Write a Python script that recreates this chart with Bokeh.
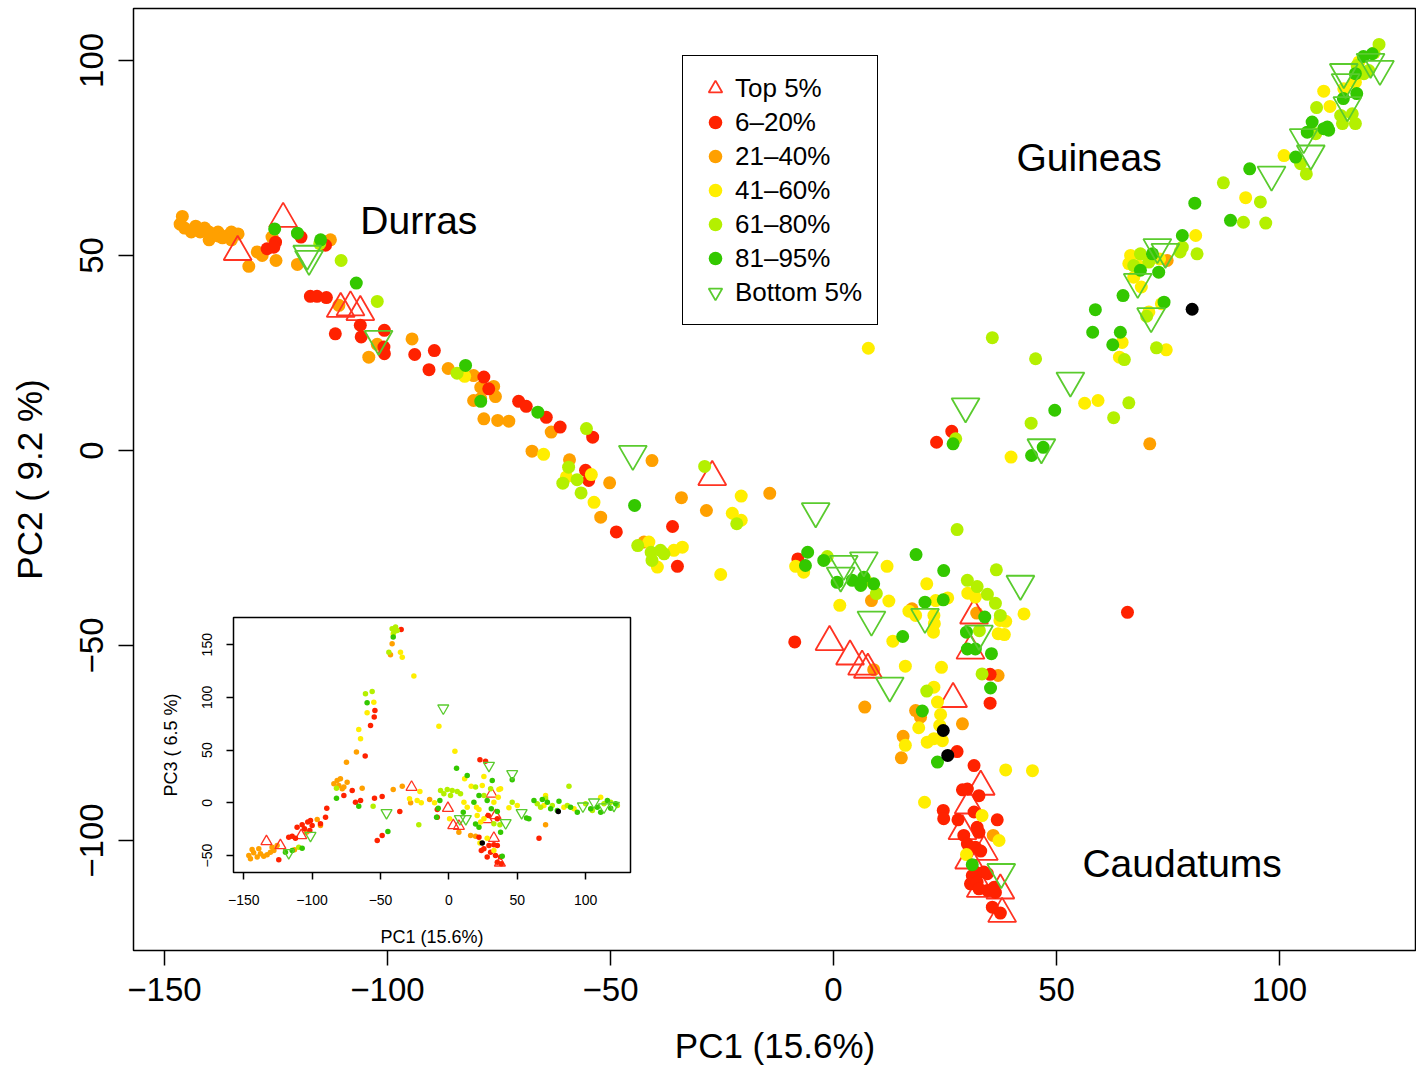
from bokeh.plotting import figure
from bokeh.models import Legend, LegendItem, Label, FixedTicker
from bokeh.embed import file_html
from bokeh.resources import INLINE

FONT = "Liberation Sans"

categories = ["Top 5%", "6–20%", "21–40%", "41–60%", "61–80%", "81–95%", "Bottom 5%"]
colors = {"top5": "#FF3322", "r": "#FF2200", "o": "#FFA000", "y": "#FFEE00",
          "l": "#B4F000", "g": "#33C800", "b": "#5ACB2E", "k": "#000000"}

x_ticks = [-150, -100, -50, 0, 50, 100]
y_ticks = [-100, -50, 0, 50, 100]
inset_x_ticks = [-150, -100, -50, 0, 50, 100]
inset_y_ticks = [-50, 0, 50, 100, 150]

# ---------------- main plot: (PC1, PC2) ----------------
main_top5 = [(-123.4, 59.4), (-133.6, 50.9), (-110.5, 36.3), (-108.3, 36.7), (-106.1, 35.5),
             (-27.2, -6.8), (-0.9, -49.1), (3.7, -52.8), (6.4, -55.4), (7.7, -56.2),
             (31.5, -42.3), (30.7, -51.3), (26.8, -63.7), (33.0, -86.2), (30.3, -91.0),
             (28.9, -97.6), (33.7, -102.9), (30.4, -105.1), (33.0, -112.4), (37.4, -112.8),
             (37.8, -118.8)]
main_r = [(-127, 51.7), (-125.1, 53.4), (-125.5, 52.1), (-119.4, 54.7), (-113.9, 52.6),
          (-117.3, 39.5), (-115.8, 39.5), (-113.7, 39.2), (-106.1, 32.1), (-111.7, 29.9),
          (-105.9, 29.1), (-100.7, 30.8), (-100.8, 26.5), (-100.7, 24.8), (-89.5, 25.6),
          (-93.9, 24.6), (-90.7, 20.7), (-78.4, 18.8), (-77.3, 15.8), (-70.6, 12.6),
          (-68.9, 11.3), (-64.4, 8.5), (-61.3, 6.0), (-54.0, 3.4), (-55.6, -5.1),
          (-54.9, -7.7), (-48.7, -20.9), (-36.1, -19.5), (-35.0, -29.7),
          (-8.0, -27.8), (-8.7, -49.1), (27.7, -77.2), (31.5, -80.8), (35.1, -57.4),
          (35.1, -64.8), (26.5, 4.9), (23.1, 2.1), (65.9, -41.5),
          (28.9, -87.0), (30.0, -86.8), (32.6, -88.5), (24.6, -92.3), (24.7, -94.4),
          (31.5, -92.7), (36.7, -94.7), (27.9, -94.7), (32.2, -96.6), (32.6, -97.9),
          (29.2, -98.7), (30.0, -100.9), (31.8, -101.7), (33.0, -102.7), (31.1, -109.0),
          (31.8, -108.1), (33.7, -108.1), (34.5, -108.5), (30.7, -111.1), (32.2, -110.7),
          (32.6, -112.4), (34.5, -112.8), (36.0, -112.0), (36.3, -113.3), (35.6, -117.1),
          (37.4, -118.6)]
main_o = [(-146, 60), (-146.5, 58), (-145.5, 57), (-143, 57.5), (-142, 56), (-140, 56),
          (-140, 54), (-138, 56), (-138, 55), (-136, 55), (-135, 54), (-135, 56), (-144, 56),
          (-141, 57), (-137, 54.5), (-133.5, 55.5), (-131.1, 47.2), (-129.2, 50.9),
          (-128.1, 50.0), (-125.9, 54.7), (-125.0, 48.7), (-120.2, 47.7), (-112.8, 54.0),
          (-110.9, 37.2), (-102.3, 27.2), (-104.2, 23.9), (-94.5, 28.6), (-86.4, 21.0),
          (-80.7, 19.2), (-79.1, 16.2), (-76.2, 16.4), (-75.8, 13.8), (-80.7, 12.8),
          (-79.1, 13.3), (-78.4, 8.1), (-75.3, 7.7), (-72.8, 7.5), (-63.3, 4.7),
          (-67.6, -0.2), (-59.2, -2.4), (-50.2, -8.3), (-52.2, -17.1), (-40.7, -2.6),
          (-34.1, -12.1), (-28.5, -15.4), (-42.5, -23.5), (-14.3, -11.0),
          (8.5, -38.5), (17.6, -40.6), (32.1, -41.7), (36.9, -57.7), (9.0, -56.2),
          (7.0, -65.8), (18.4, -66.7), (19.5, -68.4), (28.9, -70.1), (15.6, -73.3),
          (15.2, -78.8), (35.8, -98.7), (70.9, 1.7), (74.8, 48.7)]
main_y = [(-82.7, 19.0), (-65.0, -1.0), (-59.9, -6.8), (-54.3, -6.2), (-53.7, -13.3),
          (-20.7, -11.7), (-22.7, -16.1), (-20.7, -17.9), (-41.4, -23.5), (-39.5, -29.9),
          (-35.8, -25.6), (-33.9, -24.8), (-25.3, -31.8),
          (-8.5, -29.7), (-6.7, -31.2), (7.2, -33.3), (12.4, -38.6), (12.0, -29.7),
          (1.4, -39.7), (20.9, -34.2), (22.9, -38.5), (25.6, -37.8), (16.9, -41.2),
          (18.4, -42.3), (22.5, -42.3), (22.6, -44.4), (22.4, -46.6), (13.3, -48.9),
          (30.1, -36.6), (31.8, -37.6), (37.3, -43.6), (38.6, -43.8), (42.7, -41.9),
          (36.9, -47.0), (38.3, -47.2), (16.1, -55.3), (24.2, -55.6), (22.5, -60.7),
          (23.3, -64.5), (19.1, -71.1), (24.0, -67.7), (23.8, -70.5), (16.1, -75.6),
          (21.0, -74.8), (22.5, -73.9), (24.4, -74.4), (38.6, -81.9), (44.6, -82.1),
          (20.4, -90.2), (33.3, -93.6), (37.1, -100.0), (29.8, -103.6),
          (7.8, 26.2), (56.3, 12.1), (59.3, 12.8), (39.8, -1.7), (64.7, 27.7),
          (64.1, 23.9), (74.6, 25.8), (70.7, 35.5), (73.5, 37.6), (69.0, 41.9),
          (66.6, 50.0), (66.2, 47.9), (68.3, 47.4), (73.1, 49.1), (67.3, 44.4),
          (81.2, 55.1), (92.4, 64.8), (101.0, 75.6), (109.9, 92.1), (111.3, 88.2),
          (114.4, 92.7), (117.0, 94.4), (117.8, 99.6), (116.7, 94.4)]
main_l = [(-115.2, 53.0), (-110.4, 48.7), (-102.3, 38.2), (-84.4, 19.8), (-55.4, 5.6),
          (-59.4, -4.3), (-60.7, -8.4), (-57.5, -7.5), (-56.6, -10.9), (-28.9, -4.1),
          (-21.7, -18.8), (-43.9, -24.4), (-40.9, -26.1), (-38.8, -25.6), (-38.0, -26.5),
          (-40.7, -28.2),
          (27.7, -20.3), (-1.4, -27.2), (9.6, -36.7), (30.0, -33.3), (32.2, -34.9),
          (34.5, -36.9), (36.3, -39.2), (36.5, -30.6), (37.4, -42.3), (32.7, -46.2),
          (33.3, -57.3), (20.9, -61.7),
          (35.6, 28.9), (45.3, 23.5), (66.2, 12.2), (62.8, 8.4), (44.3, 7.0), (27.4, 3.0),
          (65.2, 23.3), (72.4, 26.3), (70.2, 34.4), (78.2, 52.1), (77.7, 50.9),
          (81.5, 50.4), (68.8, 50.4), (67.3, 47.4), (70.7, 48.3), (87.4, 68.6),
          (95.7, 63.7), (91.9, 58.5), (96.9, 58.3), (104.7, 73.5), (106.0, 70.9),
          (108.1, 81.2), (114.1, 83.8), (117.0, 83.8), (108.3, 87.9), (113.7, 85.9),
          (116.3, 86.3), (117.4, 98.7), (118.9, 96.6), (122.3, 104.1), (121.2, 101.9),
          (120.0, 97.4)]
main_g = [(-125.3, 56.8), (-120.2, 55.7), (-115.0, 54.0), (-107.0, 42.9), (-82.5, 21.8),
          (-79.1, 12.6), (-66.3, 9.8), (-44.6, -14.1),
          (-5.8, -26.1), (-6.3, -29.5), (-2.2, -28.2), (0.8, -33.8), (4.2, -33.3),
          (6.1, -34.6), (6.8, -32.5), (9.0, -34.2), (18.5, -26.7), (24.7, -30.8),
          (20.5, -38.9), (24.6, -38.3), (15.5, -47.7), (33.9, -42.7), (29.8, -46.6),
          (30.0, -50.9), (31.8, -50.9), (35.4, -52.1), (35.2, -60.9), (19.9, -66.8),
          (23.3, -79.9), (31.1, -106.2),
          (49.6, 10.3), (26.8, 1.7), (44.4, -1.3), (47.0, 0.8), (64.9, 39.7),
          (58.7, 36.1), (58.1, 30.3), (64.3, 30.3), (62.6, 27.1), (74.1, 38.0),
          (78.2, 55.1), (71.5, 50.4), (72.9, 45.7), (68.8, 46.2), (81.0, 63.4),
          (89.0, 59.0), (93.3, 72.2), (103.6, 75.2), (106.2, 81.6), (107.3, 84.2),
          (110.7, 82.9), (111.0, 82.1), (109.9, 82.5), (114.3, 90.2), (117.3, 91.5),
          (117.0, 96.6), (118.8, 101.0), (120.8, 101.7)]
main_bottom5 = [(-118.0, 50.4), (-117.6, 49.1), (-102.0, 28.6), (-45.0, -0.9), (-4.0, -15.6),
                (2.3, -29.1), (6.8, -28.2), (1.6, -32.1), (8.5, -43.4), (20.5, -42.7),
                (41.9, -34.2), (32.6, -47.0), (12.6, -60.3), (37.6, -108.1), (29.6, 11.3),
                (53.1, 17.9), (46.6, 0.8), (71.2, 34.4), (68.2, 43.2), (72.6, 52.1),
                (74.4, 50.9), (98.2, 70.7), (107.0, 76.1), (105.4, 80.3), (114.4, 97.0),
                (114.8, 94.4), (115.2, 88.5), (122.5, 97.8), (120.4, 99.6)]
main_k = [(80.4, 36.2), (24.6, -71.8), (25.6, -78.2)]

# ---------------- inset: (PC1, PC3) ----------------
inset_top5 = [(-133.4, -36.7), (-123.2, -40.5), (-108.0, -31.0), (-27.3, 14.9), (-0.7, -5.1),
              (3.2, -21.5), (7.3, -22.1), (31.2, 8.5), (28.0, -15.8), (34.1, -12.0),
              (32.9, -33.5), (37.3, -56.9)]
inset_r = [(-34.9, 164.5), (-54.1, 87.6), (-54.6, 81.3), (-57.3, 73.4), (-61.2, 44.3),
           (22.7, 40.8), (26.8, 39.5), (-76.8, 7.0), (-70.7, 11.7), (-68.3, 0.6),
           (-64.6, 2.2), (-54.4, 4.4), (-48.8, 6.0), (-35.9, -8.2), (-48.8, -31.0),
           (-52.4, -35.7), (-89.3, -5.1), (-90.2, -13.6), (-93.9, -19.9), (-8.5, -6.3),
           (-8.5, -13.6), (28.8, -12.0), (35.4, -15.2), (65.9, -33.5), (25.6, -43.6),
           (29.3, -40.5), (32.9, -39.8), (35.4, -40.5), (30.5, -46.8), (34.1, -50.0),
           (37.8, -51.5), (35.4, -56.3), (38.3, -57.9), (22.0, -32.6), (23.7, -45.2),
           (28.0, -51.5), (-124.4, -54.1), (-117.1, -32.6), (-114.6, -31.6), (-112.2, -33.5),
           (-111.0, -23.1), (-107.3, -20.9), (-103.2, -18.3), (-101.2, -16.8), (-100.0, -21.5),
           (-105.6, -24.7), (-101.7, -26.2)]
inset_o = [(-41.5, 150.9), (-42.7, 140.4), (-67.6, 48.1), (-74.9, 38.6), (-81.7, 21.2),
           (-79.3, 22.8), (-84.1, 18.0), (-80.5, 16.4), (-76.8, 14.9), (-74.4, 19.6),
           (-78.0, 13.3), (-63.4, 13.9), (-40.7, 12.7), (-34.1, 15.8), (-28.0, 0.0),
           (-14.1, 3.2), (7.3, -27.8), (15.9, -31.0), (19.5, -31.6), (70.7, -20.9),
           (-146.3, -50.0), (-145.1, -53.1), (-142.7, -47.4), (-140.2, -51.5), (-137.8, -48.4),
           (-135.4, -50.6), (-132.9, -49.3), (-130.5, -46.8), (-143.9, -44.3), (-139.0, -43.6),
           (-128.0, -45.2), (-125.6, -40.5), (-129.3, -42.1), (-112.9, -44.6), (-93.9, -21.5),
           (-96.3, -15.8), (-104.1, -27.8)]
inset_y = [(-39.0, 164.5), (-40.7, 160.3), (-35.4, 142.9), (-34.1, 138.2), (-25.6, 120.2),
           (-54.9, 95.5), (-59.8, 85.4), (-65.9, 69.6), (-64.6, 60.7), (-7.3, 72.7),
           (4.4, 49.0), (25.6, 25.0), (11.5, 22.8), (37.8, 13.3), (24.4, 16.4), (16.3, 15.8),
           (-21.2, 10.8), (-28.8, 3.8), (-23.2, 2.2), (-20.2, 0.0), (-10.5, 0.0),
           (0.5, -15.2), (11.0, 0.6), (13.4, -4.1), (20.7, -12.0), (20.2, -4.1), (22.0, -6.3),
           (25.6, -15.2), (23.2, -18.3), (36.6, 12.7), (36.1, 5.4), (32.9, 0.6), (43.9, -4.7),
           (50.0, -2.5), (28.0, -33.5), (32.9, -45.2), (22.7, -38.0), (70.7, 7.0),
           (69.5, -2.5), (84.1, -4.1), (111.0, 5.4), (91.5, -5.7)]
inset_l = [(-41.5, 165.1), (-39.0, 166.7), (-40.2, 161.9), (-37.8, 163.5), (-43.9, 142.9),
           (-61.0, 103.4), (-56.1, 105.6), (87.8, 15.8), (-82.2, 13.9), (-55.4, -3.2),
           (-22.0, -20.9), (-6.1, 11.7), (-1.2, 12.7), (2.4, 11.7), (6.1, 10.8), (-3.7, 8.5),
           (1.2, 7.0), (8.5, 8.5), (19.5, 14.9), (25.6, 7.0), (30.5, 13.3), (32.9, -19.9),
           (37.3, -20.9), (46.3, 0.6), (64.6, -0.9), (67.1, -4.1), (70.7, 4.4), (75.6, -2.5),
           (86.6, -2.5), (100.0, -0.9), (104.9, -7.3), (113.4, -0.9), (123.2, -2.5),
           (118.3, 0.6), (-109.8, -42.1)]
inset_g = [(-40.7, 157.2), (-59.8, 94.9), (5.6, 32.9), (46.3, 21.8), (31.7, 21.2),
           (-82.2, 4.4), (-65.9, -3.2), (-44.6, -27.2), (-6.6, 2.2), (-7.8, -5.1),
           (-9.0, -13.6), (10.5, -8.9), (19.5, -20.2), (22.0, -23.1), (35.4, -8.2),
           (28.0, 2.2), (31.0, -5.7), (37.8, -27.8), (58.5, -15.2), (13.4, 25.9),
           (18.3, 0.6), (22.0, 7.0), (39.0, -50.6), (62.2, 2.2), (68.3, 3.2), (72.0, 0.6),
           (80.5, 1.6), (74.4, -5.7), (79.3, -7.3), (89.0, -4.1), (93.9, -8.9),
           (103.7, -5.7), (108.5, -4.1), (115.9, 2.2), (122.0, -0.9), (118.3, -5.1),
           (111.0, -8.9), (56.8, -14.5), (-119.5, -46.8), (-114.6, -45.2), (-107.3, -43.0)]
inset_bottom5 = [(-4.1, 89.8), (29.3, 35.4), (46.3, 27.5), (-45.6, -9.5), (8.0, -15.2),
                 (12.4, -15.2), (41.5, -19.0), (53.2, -9.5), (98.0, -3.2), (106.1, 0.6),
                 (113.4, -4.1), (120.7, -2.5), (-117.1, -47.4), (-101.2, -31.0)]
inset_k = [(24.4, -38.0), (80.0, -8.2)]

group_labels = [("Durras", -106.1, 59.0), ("Guineas", 41.0, 75.1), ("Caudatums", 55.8, -105.9)]


def xs(pts):
    return [a for a, _ in pts]


def ys(pts):
    return [b for _, b in pts]


def minus(t):
    return str(t).replace("-", "\u2212")


def style_axes(fig, xt, yt, tick_out, tick_size, label_size, x_std, x_ax_std, y_std, y_ax_std):
    fig.grid.visible = False
    fig.outline_line_color = "black"
    fig.outline_line_width = 1.5
    fig.outline_line_alpha = 1
    for ax, ticks, s1, s2 in ((fig.xaxis[0], xt, x_std, x_ax_std), (fig.yaxis[0], yt, y_std, y_ax_std)):
        ax.ticker = FixedTicker(ticks=ticks)
        ax.major_label_overrides = {t: minus(t) for t in ticks}
        ax.axis_line_color = None
        ax.major_tick_line_color = "black"
        ax.major_tick_line_width = 1.5
        ax.major_tick_out = tick_out
        ax.major_tick_in = 0
        ax.minor_tick_line_color = None
        ax.major_label_text_font = FONT
        ax.major_label_text_font_size = tick_size
        ax.major_label_text_color = "black"
        ax.axis_label_text_font = FONT
        ax.axis_label_text_font_size = label_size
        ax.axis_label_text_font_style = "normal"
        ax.axis_label_text_color = "black"
        ax.major_label_standoff = s1
        ax.axis_label_standoff = s2
    fig.yaxis[0].major_label_orientation = "vertical"


p = figure(width=1416, height=1069, x_range=(-156.95, 130.7), y_range=(-128.2, 113.3),
           output_backend="svg", toolbar_location=None,
           min_border_left=133, min_border_right=0, min_border_top=8, min_border_bottom=119,
           x_axis_label="PC1 (15.6%)", y_axis_label="PC2 ( 9.2 %)")
style_axes(p, x_ticks, y_ticks, 15, "33px", "35px", 12, 22, 15, 29)

CS = 13
r_o = p.scatter(xs(main_o), ys(main_o), marker="circle", size=CS, fill_color=colors["o"], line_color=None)
r_t = p.scatter(xs(main_top5), ys(main_top5), marker="triangle", size=28, fill_color=None,
                line_color=colors["top5"], line_width=1.8)
r_r = p.scatter(xs(main_r), ys(main_r), marker="circle", size=CS, fill_color=colors["r"], line_color=None)
r_y = p.scatter(xs(main_y), ys(main_y), marker="circle", size=CS, fill_color=colors["y"], line_color=None)
r_l = p.scatter(xs(main_l), ys(main_l), marker="circle", size=CS, fill_color=colors["l"], line_color=None)
r_g = p.scatter(xs(main_g), ys(main_g), marker="circle", size=CS, fill_color=colors["g"], line_color=None)
r_b = p.scatter(xs(main_bottom5), ys(main_bottom5), marker="inverted_triangle", size=28, fill_color=None,
                line_color=colors["b"], line_width=1.8)
p.scatter(xs(main_k), ys(main_k), marker="circle", size=CS, fill_color=colors["k"], line_color=None)

legend = Legend(items=[LegendItem(label=lab, renderers=[rr]) for lab, rr in
                       zip(categories, [r_t, r_r, r_o, r_y, r_l, r_g, r_b])],
                location=(549, 625), orientation="vertical")
legend.border_line_color = "black"
legend.border_line_width = 1.5
legend.border_line_alpha = 1
legend.background_fill_color = "white"
legend.background_fill_alpha = 1
legend.padding = 15
legend.margin = 0
legend.spacing = 0
legend.glyph_height = 34
legend.glyph_width = 34
legend.label_height = 34
legend.label_standoff = 3
legend.label_text_font = FONT
legend.label_text_font_size = "26px"
legend.label_text_color = "black"
p.add_layout(legend)

for txt, gx, gy in group_labels:
    p.add_layout(Label(x=gx, y=gy, text=txt, text_font=FONT, text_font_size="39px",
                       text_baseline="middle", text_align="left", text_color="black"))

# ---------------- inset ----------------
q = figure(width=494, height=350, x_range=(-157.5, 132.8), y_range=(-66.1, 175.8),
           output_backend="svg", toolbar_location=None,
           min_border_left=95, min_border_right=2, min_border_top=5, min_border_bottom=90,
           x_axis_label="PC1 (15.6%)", y_axis_label="PC3 ( 6.5 %)")
style_axes(q, inset_x_ticks, inset_y_ticks, 7, "14px", "18px", 15, 19, 14, 19)
q.background_fill_color = "white"
q.border_fill_color = None
q.styles = {"position": "absolute", "left": "138px", "top": "612px"}

IS = 5.5
q.scatter(xs(inset_o), ys(inset_o), marker="circle", size=IS, fill_color=colors["o"], line_color=None)
q.scatter(xs(inset_top5), ys(inset_top5), marker="triangle", size=11, fill_color=None,
          line_color=colors["top5"], line_width=1.3)
q.scatter(xs(inset_r), ys(inset_r), marker="circle", size=IS, fill_color=colors["r"], line_color=None)
q.scatter(xs(inset_y), ys(inset_y), marker="circle", size=IS, fill_color=colors["y"], line_color=None)
q.scatter(xs(inset_l), ys(inset_l), marker="circle", size=IS, fill_color=colors["l"], line_color=None)
q.scatter(xs(inset_g), ys(inset_g), marker="circle", size=IS, fill_color=colors["g"], line_color=None)
q.scatter(xs(inset_bottom5), ys(inset_bottom5), marker="inverted_triangle", size=11, fill_color=None,
          line_color=colors["b"], line_width=1.3)
q.scatter(xs(inset_k), ys(inset_k), marker="circle", size=IS, fill_color=colors["k"], line_color=None)

open("out.html", "w").write(file_html([p, q], INLINE, title="PCA"))
